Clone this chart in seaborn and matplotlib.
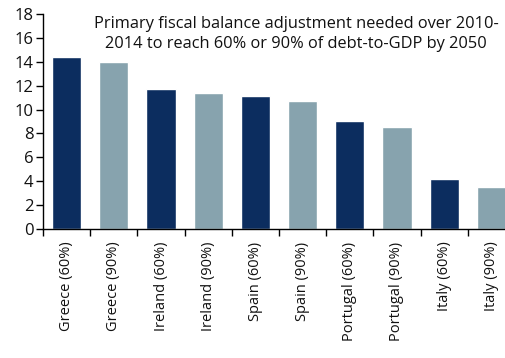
import matplotlib
matplotlib.use("Agg")
import matplotlib.pyplot as plt
import seaborn as sns
import pandas as pd
from matplotlib.ticker import FixedLocator

categories = ["Greece (60%)", "Greece (90%)", "Ireland (60%)", "Ireland (90%)",
              "Spain (60%)", "Spain (90%)", "Portugal (60%)", "Portugal (90%)",
              "Italy (60%)", "Italy (90%)"]
values = [14.4, 13.95, 11.7, 11.35, 11.15, 10.7, 9.05, 8.5, 4.2, 3.5]
yticks = [0, 2, 4, 6, 8, 10, 12, 14, 16, 18]
title = "Primary fiscal balance adjustment needed over 2010-\n2014 to reach 60% or 90% of debt-to-GDP by 2050"

dark = "#0C2D5F"
light = "#87A3AE"
palette = [dark if i % 2 == 0 else light for i in range(len(categories))]

sns.set_theme(style="white")
plt.rcParams['font.family'] = ['Open Sans', 'DejaVu Sans']

df = pd.DataFrame({"cat": categories, "val": values})

fig = plt.figure(figsize=(5.06, 3.58), dpi=100)
ax = fig.add_axes([43/506, 1-229/358, 472/506, 215/358])
sns.barplot(data=df, x="cat", y="val", hue="cat", palette=palette,
            legend=False, width=0.62, saturation=1, ax=ax)

ax.set_xlim(-0.5, len(categories) - 0.5)
ax.set_ylim(0, 18)
ax.set_yticks(yticks)
ax.set_yticklabels([str(t) for t in yticks], fontsize=12, color="#111111")
ax.set_xlabel("")
ax.set_ylabel("")
ax.set_xticks(range(len(categories)))
ax.set_xticklabels(categories, rotation=90, fontsize=10.5, color="#111111")
ax.xaxis.set_minor_locator(FixedLocator([i - 0.5 for i in range(len(categories) + 1)]))
ax.tick_params(axis="x", which="major", length=0, pad=9)
ax.tick_params(axis="x", which="minor", length=5, width=1, color="black", direction="out", bottom=True)
ax.tick_params(axis="y", which="major", length=5, width=1, color="black", direction="out", left=True, pad=2)

for s in ["top", "right"]:
    ax.spines[s].set_visible(False)
for s in ["left", "bottom"]:
    ax.spines[s].set_color("black")
    ax.spines[s].set_linewidth(1)

fig.text(296/506, 1-34/358, title, ha="center", va="center", fontsize=11.8,
         color="#111111", linespacing=1.3)

fig.savefig("out.png", dpi=100)
